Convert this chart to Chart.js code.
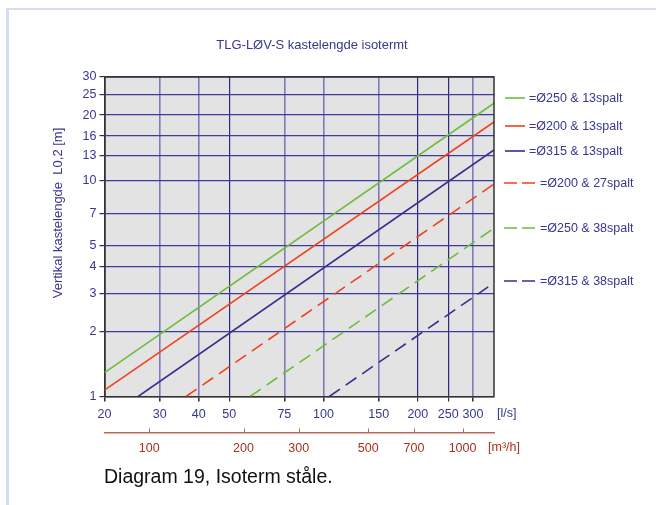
<!DOCTYPE html>
<html>
<head>
<meta charset="utf-8">
<title>TLG-LØV-S kastelengde isotermt</title>
<script src="https://cdn.jsdelivr.net/npm/chart.js@4.4.1/dist/chart.umd.min.js"></script>
<style>
    html, body { margin: 0; padding: 0; background: #fff; }
    body { width: 656px; height: 505px; position: relative; overflow: hidden; }
    #frame {
        position: absolute; left: 6px; top: 8px; width: 700px; height: 600px;
        border-left: 3px solid #d6ddf3; border-top: 2px solid #d6ddf3;
    }
    #wrap { position: absolute; left: 0; top: 0; width: 656px; height: 505px; }
    #caption {
        position: absolute; left: 104px; top: 465px;
        font: 19.5px "Liberation Sans", Arial, sans-serif; color: #111;
    }
</style>
</head>
<body>
<div id="frame"></div>
<div id="wrap"><canvas id="throwChart"></canvas></div>
<div id="caption">Diagram 19, Isoterm ståle.</div>
<script>
// Tick labels
const xTicks = [20, 30, 40, 50, 75, 100, 150, 200, 250, 300];     // l/s
const m3hTicks = [100, 200, 300, 500, 700, 1000];                 // m3/h
const yTicks = [1, 2, 3, 4, 5, 7, 10, 13, 16, 20, 25, 30];        // m

// Series (each line is straight on log-log, so start + end point)
const seriesNames = [
    '=Ø250 & 13spalt',
    '=Ø200 & 13spalt',
    '=Ø315 & 13spalt',
    '=Ø200 & 27spalt',
    '=Ø250 & 38spalt',
    '=Ø315 & 38spalt'
];
const flowStart = [20, 20, 25.6, 36.4, 58.3, 104.3];
const lengthStart = [1.29, 1.07, 1, 1, 1, 1];
const flowEnd = [350, 350, 350, 350, 350, 350];
const lengthEnd = [22.7, 18.6, 13.8, 9.6, 6.0, 3.35];

const GREEN = '#6cbd3c';
const RED = '#f0421c';
const NAVY = '#3b2c8e';
const TEXT = '#38368e';
const BROWN = '#a8321e';
const FONT = '"Liberation Sans", Arial, sans-serif';

const lineColors = [GREEN, RED, NAVY, RED, GREEN, NAVY];
const dashed = [false, false, false, true, true, true];
const legendY = [98, 126, 151, 183, 228, 281];

const datasets = seriesNames.map((name, i) => ({
    label: name,
    data: [
        { x: flowStart[i], y: lengthStart[i] },
        { x: flowEnd[i], y: lengthEnd[i] }
    ],
    borderColor: lineColors[i],
    borderWidth: 1.6,
    borderDash: dashed[i] ? [13, 7] : [],
    pointRadius: 0,
    fill: false,
    tension: 0
}));

const darkX = [50, 200, 250];

// plot background + frame + extra texts + legend
const decorations = {
    id: 'decorations',
    beforeDraw(chart) {
        const { ctx, chartArea: a } = chart;
        ctx.save();
        ctx.fillStyle = '#e3e3e3';
        ctx.fillRect(a.left, a.top, a.right - a.left, a.bottom - a.top);
        ctx.restore();
    },
    afterDraw(chart) {
        const { ctx, chartArea: a } = chart;
        const x2 = chart.scales.x2;
        ctx.save();

        // top and right frame
        ctx.strokeStyle = '#333';
        ctx.lineWidth = 1.5;
        ctx.beginPath();
        ctx.moveTo(a.left, a.top);
        ctx.lineTo(a.right, a.top);
        ctx.lineTo(a.right, a.bottom);
        ctx.stroke();

        // upward ticks on the m3/h axis
        ctx.strokeStyle = '#b8685a';
        ctx.lineWidth = 1;
        m3hTicks.forEach(v => {
            const px = Math.round(x2.getPixelForValue(v)) + 0.5;
            ctx.beginPath();
            ctx.moveTo(px, x2.top);
            ctx.lineTo(px, x2.top - 4);
            ctx.stroke();
        });

        // titles and units
        ctx.fillStyle = TEXT;
        ctx.font = '13px ' + FONT;
        ctx.textAlign = 'center';
        ctx.textBaseline = 'middle';
        ctx.fillText('TLG-LØV-S kastelengde isotermt', 312, 45);

        ctx.save();
        ctx.translate(58, 213);
        ctx.rotate(-Math.PI / 2);
        ctx.fillText('Vertikal kastelengde  L0,2 [m]', 0, 0);
        ctx.restore();

        ctx.textAlign = 'left';
        ctx.font = '12.5px ' + FONT;
        ctx.fillText('[l/s]', 497, 414);
        ctx.fillStyle = BROWN;
        ctx.fillText('[m³/h]', 488, 448);

        // legend beside the line ends
        ctx.font = '12.5px ' + FONT;
        chart.data.datasets.forEach((ds, i) => {
            const y = legendY[i];
            ctx.strokeStyle = ds.borderColor;
            ctx.lineWidth = 1.6;
            ctx.setLineDash(dashed[i] ? [13, 5] : []);
            ctx.beginPath();
            ctx.moveTo(dashed[i] ? 504 : 505, y);
            ctx.lineTo(dashed[i] ? 535 : 525, y);
            ctx.stroke();
            ctx.setLineDash([]);
            ctx.fillStyle = TEXT;
            ctx.fillText(ds.label, dashed[i] ? 540 : 529, y + 1);
        });
        ctx.restore();
    }
};

const ctx = document.getElementById('throwChart').getContext('2d');
new Chart(ctx, {
    type: 'line',
    data: { datasets },
    options: {
        responsive: true,
        maintainAspectRatio: false,
        animation: false,
        layout: { padding: { left: 0, right: 162, top: 77, bottom: 42.5 } },
        plugins: {
            legend: { display: false },
            title: { display: false },
            tooltip: { enabled: false }
        },
        scales: {
            x: {
                type: 'logarithmic',
                position: 'bottom',
                min: 20,
                max: 350,
                afterBuildTicks: s => { s.ticks = xTicks.map(v => ({ value: v })); },
                afterFit: s => { s.height = 36; },
                ticks: {
                    callback: v => String(v),
                    autoSkip: false,
                    maxRotation: 0,
                    padding: 6,
                    color: TEXT,
                    font: { family: FONT, size: 12.5 }
                },
                grid: {
                    color: c => (c.tick && c.tick.value === 20) ? '#333'
                        : (c.tick && darkX.includes(c.tick.value)) ? '#2a2a7e' : 'rgba(100,96,176,0.8)',
                    lineWidth: c => (c.tick && darkX.includes(c.tick.value)) ? 1.2 : 1.6,
                    tickColor: '#333',
                    tickLength: 5
                },
                border: { color: '#333', width: 1.5 }
            },
            x2: {
                type: 'logarithmic',
                position: 'bottom',
                min: 72,
                max: 1260,
                afterBuildTicks: s => { s.ticks = m3hTicks.map(v => ({ value: v })); },
                afterFit: s => { s.height = 30; },
                ticks: {
                    callback: v => String(v),
                    autoSkip: false,
                    maxRotation: 0,
                    padding: 9,
                    color: BROWN,
                    font: { family: FONT, size: 12.5 }
                },
                grid: { drawOnChartArea: false, drawTicks: false },
                border: { color: '#b8685a', width: 1.5 }
            },
            y: {
                type: 'logarithmic',
                min: 1,
                max: 30,
                afterBuildTicks: s => { s.ticks = yTicks.map(v => ({ value: v })); },
                afterFit: s => { s.width = 104.5; },
                ticks: {
                    callback: v => String(v),
                    autoSkip: false,
                    padding: 3,
                    color: TEXT,
                    font: { family: FONT, size: 12.5 }
                },
                grid: {
                    color: c => (c.tick && c.tick.value === 1) ? '#333' : '#3d3b9e',
                    lineWidth: 1.2,
                    tickColor: '#333',
                    tickLength: 5
                },
                border: { color: '#333', width: 1.5 }
            }
        }
    },
    plugins: [decorations]
});
</script>
</body>
</html>
